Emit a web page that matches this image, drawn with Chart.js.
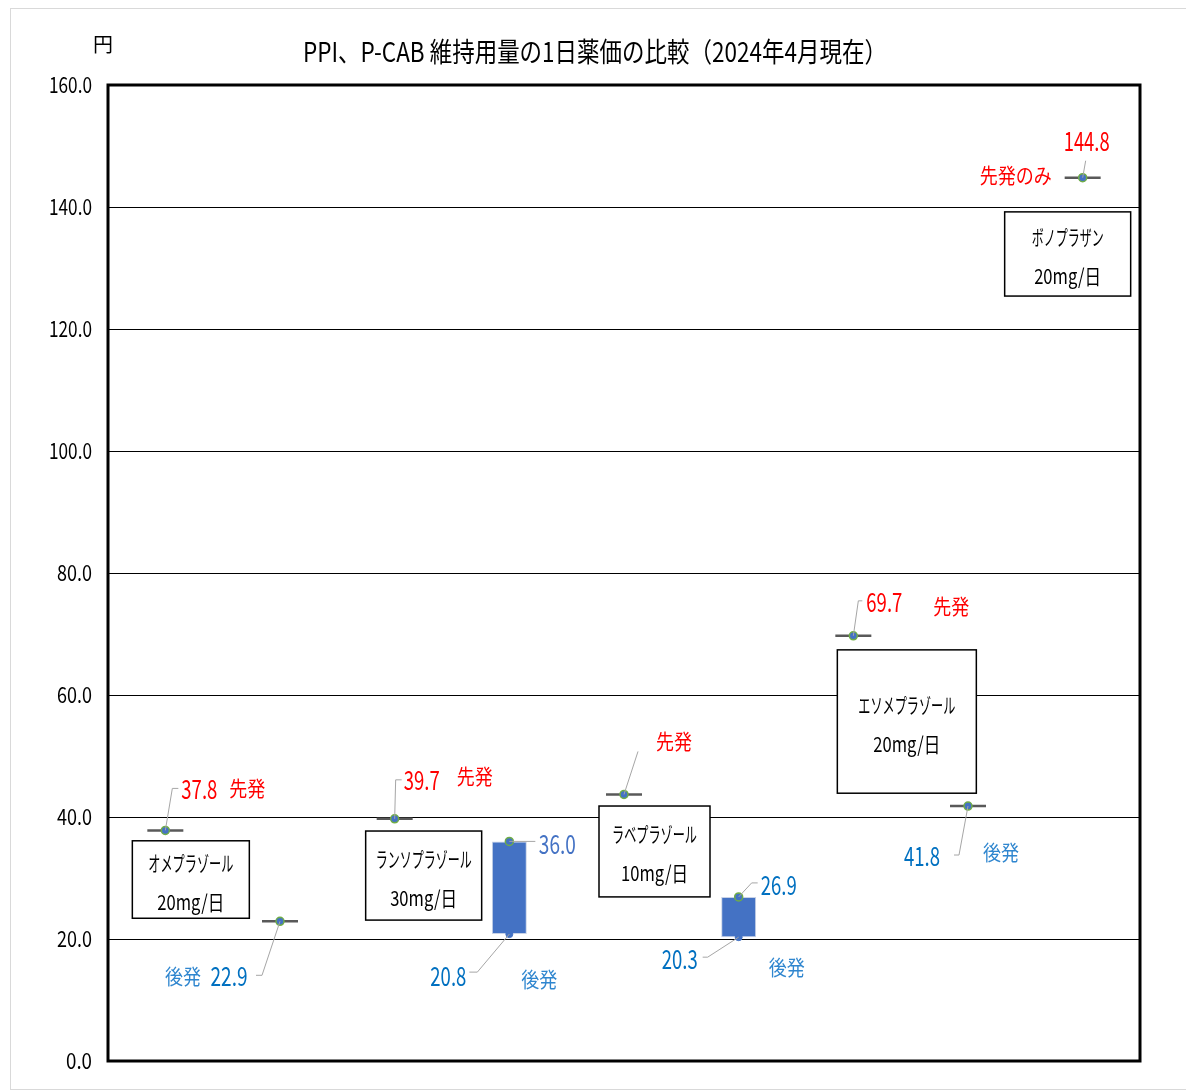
<!DOCTYPE html>
<html>
<head>
<meta charset="utf-8">
<title>PPI、P-CAB 維持用量の1日薬価の比較</title>
<script src="https://cdn.jsdelivr.net/npm/chart.js@4"></script>
<style>
body { margin:0; background:#fff; }
#wrap { position:relative; width:1186px; height:1091px; }
</style>
</head>
<body>
<div id="wrap"><canvas id="chart-area-1" width="1186" height="1091"></canvas></div>
<script>
// categories: one slot per marker (先発 / 後発 per drug)
var categories = ['オメプラゾール先発','オメプラゾール後発','ランソプラゾール先発','ランソプラゾール後発',
	'ラベプラゾール先発','ラベプラゾール後発','エソメプラゾール先発','エソメプラゾール後発','ボノプラザン先発'];
var singlePrices = [37.8, 22.9, 39.7, null, 43.7, null, 69.7, 41.8, 144.8];
var rangeLow  = [null, null, null, 20.8, null, 20.3, null, null, null];
var rangeHigh = [null, null, null, 36.0, null, 26.9, null, null, null];
var yTicks = [0, 20, 40, 60, 80, 100, 120, 140, 160];
var drugNames = ['オメプラゾール', 'ランソプラゾール', 'ラベプラゾール', 'エソメプラゾール', 'ボノプラザン'];
var drugDoses = ['20mg/日', '30mg/日', '10mg/日', '20mg/日', '20mg/日'];

var RED = '#FF0000', BLUE = '#0070C0', LBLUE = '#2F86CF', BARBLUE = '#4472C4';
var FONT = '"Liberation Sans Narrow", "Noto Sans CJK JP", sans-serif';

var topDots = singlePrices.map(function(v, i){ return v !== null ? v : rangeHigh[i]; });
var barData = rangeLow.map(function(v, i){ return v === null ? null : [v, rangeHigh[i]]; });

// annotation layout (pixel offsets from each data point)
var notes = [
	{cat:0, val:singlePrices[0], leader:[[0,0],[7,-42],[13,-42]], texts:[{v:true,dx:34,dy:-41,c:RED,w:36},{t:'先発',dx:82,dy:-42,c:RED,w:36}]},
	{cat:1, val:singlePrices[1], leader:[[0,0],[-18,54],[-24,54]], texts:[{v:true,dx:-51,dy:55,c:BLUE,w:37},{t:'後発',dx:-97,dy:55,c:LBLUE,w:36}]},
	{cat:2, val:singlePrices[2], leader:[[0,0],[1,-39],[7,-39]], texts:[{v:true,dx:27,dy:-39,c:RED,w:36},{t:'先発',dx:80,dy:-43,c:RED,w:36}]},
	{cat:3, val:rangeHigh[3], leader:[[0,0],[26,0]], texts:[{v:true,dx:48,dy:3,c:BARBLUE,w:37}]},
	{cat:3, val:rangeLow[3], leader:[[0,0],[-32,38],[-40,38]], texts:[{v:true,dx:-61,dy:42,c:BLUE,w:36},{t:'後発',dx:30,dy:45,c:LBLUE,w:36}]},
	{cat:4, val:singlePrices[4], leader:[[0,0],[14,-43]], texts:[{t:'先発',dx:50,dy:-53,c:RED,w:36}]},
	{cat:5, val:rangeHigh[5], leader:[[0,0],[13,-14],[19,-14]], texts:[{v:true,dx:40,dy:-12,c:BLUE,w:36}]},
	{cat:5, val:rangeLow[5], leader:[[0,0],[-31,20],[-36,20]], texts:[{v:true,dx:-59,dy:22,c:BLUE,w:36,bg:true},{t:'後発',dx:48,dy:30,c:LBLUE,w:36}]},
	{cat:6, val:singlePrices[6], leader:[[0,0],[5,-35],[9,-35]], texts:[{v:true,dx:31,dy:-34,c:RED,w:36},{t:'先発',dx:98,dy:-30,c:RED,w:36}]},
	{cat:7, val:singlePrices[7], leader:[[0,0],[-9,49],[-14,49]], texts:[{v:true,dx:-46,dy:50,c:BLUE,w:36},{t:'後発',dx:33,dy:46,c:LBLUE,w:36}]},
	{cat:8, val:singlePrices[8], leader:[[0,0],[3,-17]], texts:[{v:true,dx:4,dy:-37,c:RED,w:46},{t:'先発のみ',dx:-67,dy:-3,c:RED,w:72}]}
];

// drug name boxes: x offsets from category centre, y in data units
var boxes = [
	{cat:0, dx0:-33, dx1:84,  v0:36.1, v1:23.4, nw:85, dw:67},
	{cat:2, dx0:-29, dx1:87,  v0:37.7, v1:23.1, nw:96, dw:67},
	{cat:4, dx0:-25, dx1:86,  v0:41.8, v1:26.9, nw:85, dw:67},
	{cat:6, dx0:-16, dx1:123, v0:67.4, v1:43.9, nw:97, dw:67},
	{cat:8, dx0:-78, dx1:48,  v0:139.2, v1:125.4, nw:72, dw:67}
];

function sqText(ctx, text, x, y, size, color, w, bg, align){
	ctx.save();
	ctx.font = size + 'px ' + FONT;
	ctx.textBaseline = 'middle';
	ctx.textAlign = align || 'center';
	var m = ctx.measureText(text).width;
	var s = w ? w / m : 1;
	if (bg) {
		ctx.fillStyle = '#fff';
		ctx.fillRect(x - m * s / 2 - 4, y - size / 2 - 2, m * s + 8, size + 4);
	}
	ctx.translate(x, y);
	ctx.scale(s, 1);
	ctx.fillStyle = color;
	ctx.fillText(text, 0, 0);
	ctx.restore();
}

var decor = {
	id: 'decor',
	beforeDraw: function(chart){
		var ctx = chart.ctx;
		ctx.save();
		ctx.fillStyle = '#fff';
		ctx.fillRect(0, 0, chart.width, chart.height);
		ctx.strokeStyle = '#d9d9d9';
		ctx.lineWidth = 1;
		ctx.strokeRect(10.5, 8.5, 1176, 1081);
		ctx.restore();
	},
	afterDatasetsDraw: function(chart){
		var ctx = chart.ctx, xs = chart.scales.x, ys = chart.scales.y, a = chart.chartArea;

		// boxes
		boxes.forEach(function(b, i){
			var cx = xs.getPixelForValue(b.cat);
			var x0 = cx + b.dx0, x1 = cx + b.dx1;
			var y0 = ys.getPixelForValue(b.v0), y1 = ys.getPixelForValue(b.v1);
			ctx.save();
			ctx.fillStyle = '#fff';
			ctx.fillRect(x0, y0, x1 - x0, y1 - y0);
			ctx.strokeStyle = '#000';
			ctx.lineWidth = 1.5;
			ctx.strokeRect(x0, y0, x1 - x0, y1 - y0);
			ctx.restore();
			var mx = (x0 + x1) / 2, my = (y0 + y1) / 2;
			sqText(ctx, drugNames[i], mx, my - 17, 21, '#000', b.nw);
			sqText(ctx, drugDoses[i], mx, my + 22, 21, '#000', b.dw);
		});

		// leaders + value labels
		notes.forEach(function(n){
			var px = xs.getPixelForValue(n.cat), py = ys.getPixelForValue(n.val);
			ctx.save();
			ctx.strokeStyle = '#a6a6a6';
			ctx.lineWidth = 1;
			ctx.beginPath();
			n.leader.forEach(function(p, k){
				if (k === 0) ctx.moveTo(px + p[0], py + p[1]); else ctx.lineTo(px + p[0], py + p[1]);
			});
			ctx.stroke();
			ctx.restore();
			n.texts.forEach(function(t){
				var txt = t.v ? n.val.toFixed(1) : t.t;
				var size = t.v ? 26 : 21;
				sqText(ctx, txt, px + t.dx, py + t.dy, size, t.c, t.w, t.bg);
			});
		});

		// y tick labels (narrow)
		ys.ticks.forEach(function(t){
			var lbl = t.value.toFixed(1);
			var w = lbl.length === 5 ? 43 : (lbl.length === 4 ? 35 : 26);
			sqText(ctx, lbl, 92 - w / 2, ys.getPixelForValue(t.value), 22, '#000', w);
		});

		// thick plot frame
		ctx.save();
		ctx.strokeStyle = '#000';
		ctx.lineWidth = 3;
		ctx.strokeRect(a.left, a.top, a.right - a.left, a.bottom - a.top);
		ctx.restore();

		// title and unit
		sqText(ctx, 'PPI、P-CAB 維持用量の1日薬価の比較（2024年4月現在）', 595, 52, 27, '#000', 584);
		sqText(ctx, '円', 103, 44, 20, '#000');
	}
};

window.onload = function(){
	var ctx = document.getElementById('chart-area-1').getContext('2d');
	window.myChart = new Chart(ctx, {
		type: 'bar',
		data: {
			labels: categories,
			datasets: [{
				type: 'line',
				label: 'dots',
				data: topDots,
				showLine: false,
				pointStyle: 'circle',
				pointRadius: 4,
				pointBackgroundColor: BARBLUE,
				pointBorderColor: '#70AD47',
				pointBorderWidth: 1.5,
				order: 0
			}, {
				type: 'line',
				label: 'low dots',
				data: rangeLow,
				showLine: false,
				pointStyle: 'circle',
				pointRadius: 3.5,
				pointBackgroundColor: BARBLUE,
				pointBorderColor: BARBLUE,
				pointBorderWidth: 1,
				order: 1
			}, {
				type: 'line',
				label: 'price',
				data: singlePrices,
				showLine: false,
				pointStyle: 'line',
				pointRadius: 18,
				pointBorderColor: '#595959',
				pointBorderWidth: 2.5,
				order: 2
			}, {
				label: '後発',
				data: barData,
				backgroundColor: BARBLUE,
				borderColor: '#c8d2e6',
				borderWidth: 1,
				borderSkipped: false,
				barPercentage: 0.305,
				categoryPercentage: 1,
				order: 3
			}]
		},
		options: {
			responsive: false,
			animation: false,
			layout: { padding: { left: 10, right: 46, top: 85, bottom: 30 } },
			plugins: {
				legend: { display: false },
				tooltip: { enabled: false }
			},
			scales: {
				x: {
					display: false,
					offset: true
				},
				y: {
					min: 0,
					max: 160,
					afterBuildTicks: function(scale){
						scale.ticks = yTicks.map(function(v){ return {value: v}; });
					},
					afterFit: function(scale){ scale.width = 98; },
					grid: { color: '#000', lineWidth: 1, drawTicks: false },
					border: { display: false },
					ticks: { display: false }
				}
			}
		},
		plugins: [decor]
	});
};
</script>
</body>
</html>
